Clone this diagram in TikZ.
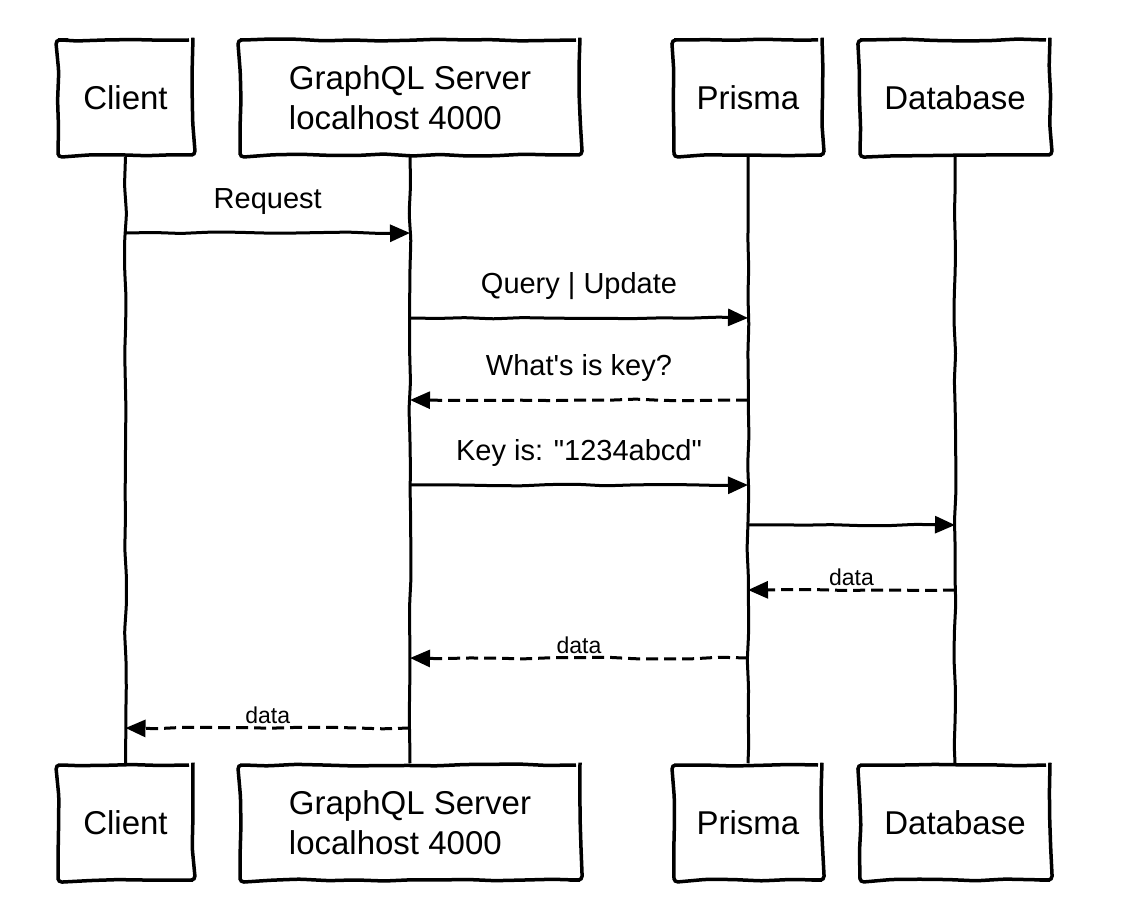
\documentclass[tikz,border=0pt]{standalone}
\usepackage{fontspec}
\newfontfamily\seqfont{Liberation Sans}
\usetikzlibrary{arrows.meta,decorations.pathmorphing}

\begin{document}
\begin{tikzpicture}[x=1pt, y=-1pt, every node/.style={inner sep=0pt}]
	\pgfmathsetseed{7}
	\useasboundingbox (0,0) rectangle (1146,912);
	\tikzset{
		sketch/.style={decorate, decoration={random steps, segment length=28pt, amplitude=1pt}, rounded corners=4pt},
		actor/.style={draw, sketch, line width=3.5pt, minimum height=115pt, align=center, font=\seqfont\fontsize{33}{40}\selectfont},
		lifeline/.style={line width=3pt, sketch},
		msg/.style={line width=3pt, sketch, -{Triangle[length=20pt,width=17pt]}},
		reply/.style={msg, dash pattern=on 12pt off 6pt},
		msglabel/.style={above=17pt, font=\seqfont\fontsize{29}{34}\selectfont},
		datalabel/.style={above=3pt, font=\seqfont\fontsize{23}{26}\selectfont}
	}
	% participants, top and bottom
	\foreach \y/\row in {97.5/top, 822.5/bot} {
		\node[actor, minimum width=135pt] (client\row) at (125.5,\y) {Client};
		\node[actor, minimum width=340pt, align=left] (server\row) at (410,\y) {GraphQL Server\\localhost 4000};
		\node[actor, minimum width=148pt] (prisma\row) at (748,\y) {Prisma};
		\node[actor, minimum width=190pt] (db\row) at (955,\y) {Database};
	}
	% lifelines
	\foreach \a in {client,server,prisma,db}
	\draw[lifeline] (\a top.south) -- (\a bot.north);
	% messages
	\foreach \n/\from/\to/\y/\kind/\lab/\txt in {
		1/client/server/233/msg/msglabel/Request,
		2/server/prisma/318/msg/msglabel/{Query | Update},
		3/prisma/server/400/reply/msglabel/{What's is key?},
		4/server/prisma/485/msg/msglabel/{Key is: "1234abcd"},
		5/prisma/db/525/msg/msglabel/{},
		6/db/prisma/590/reply/datalabel/data,
		7/prisma/server/658/reply/datalabel/data,
		8/server/client/728/reply/datalabel/data}
	{
		\coordinate (m\n s) at (\from top.center |- 0,\y);
		\coordinate (m\n e) at (\to top.center |- 0,\y);
		\draw[\kind] (m\n s) -- node[\lab] (t\n) {\txt} (m\n e);
	}
\end{tikzpicture}
\end{document}
